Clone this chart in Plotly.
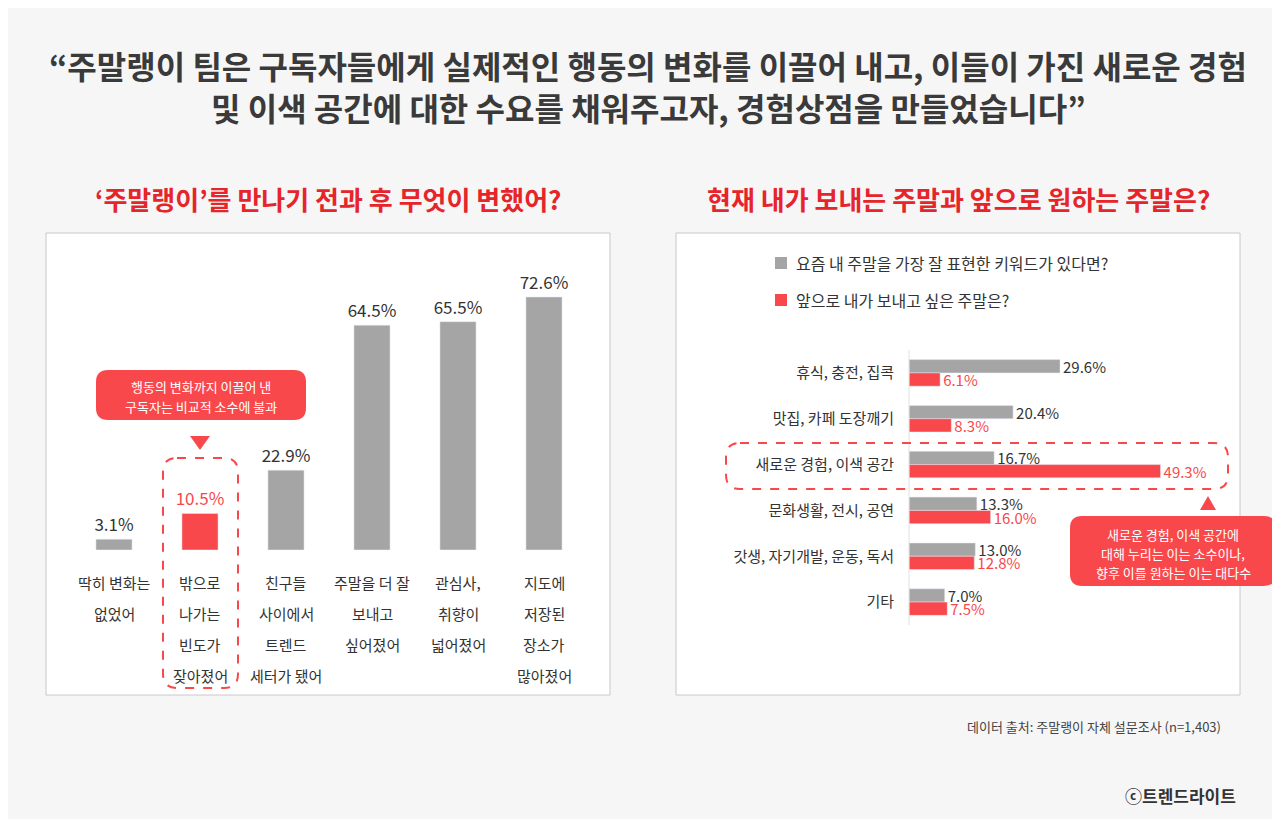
import plotly.graph_objects as go

W, H = 1280, 819
GRAY = "#a5a5a5"
RED = "#f9484c"
DARK = "#333333"
FONT = "Noto Sans CJK KR"

# left chart data
left_labels = [["딱히 변화는", "없었어"], ["밖으로", "나가는", "빈도가", "잦아졌어"],
               ["친구들", "사이에서", "트렌드", "세터가 됐어"], ["주말을 더 잘", "보내고", "싶어졌어"],
               ["관심사,", "취향이", "넓어졌어"], ["지도에", "저장된", "장소가", "많아졌어"]]
left_values = [3.1, 10.5, 22.9, 64.5, 65.5, 72.6]

# right chart data
right_cats = ["휴식, 충전, 집콕", "맛집, 카페 도장깨기", "새로운 경험, 이색 공간",
              "문화생활, 전시, 공연", "갓생, 자기개발, 운동, 독서", "기타"]
now_values = [29.6, 20.4, 16.7, 13.3, 13.0, 7.0]
want_values = [6.1, 8.3, 49.3, 16.0, 12.8, 7.5]


def px(x):
    return x / W


def py(y):
    return 1 - y / H


def rrect(x0, y0, x1, y1, r):
    x0, x1, y0, y1 = px(x0), px(x1), py(y0), py(y1)
    rx, ry = r / W, r / H
    return (f"M{x0+rx},{y0} L{x1-rx},{y0} Q{x1},{y0} {x1},{y0-ry} L{x1},{y1+ry} "
            f"Q{x1},{y1} {x1-rx},{y1} L{x0+rx},{y1} Q{x0},{y1} {x0},{y1+ry} "
            f"L{x0},{y0-ry} Q{x0},{y0} {x0+rx},{y0} Z")


fig = go.Figure()

xs = list(range(len(left_values)))
fig.add_trace(go.Bar(
    x=xs, y=left_values, width=0.42,
    marker_color=[GRAY, RED, GRAY, GRAY, GRAY, GRAY],
    text=[f"{v}%" for v in left_values], textposition="outside", constraintext="none",
    textfont=dict(size=17, color=[DARK, RED, DARK, DARK, DARK, DARK], family=FONT),
    cliponaxis=False, xaxis="x", yaxis="y", showlegend=False))

fig.add_trace(go.Bar(
    y=right_cats, x=now_values, orientation="h", marker_color=GRAY,
    text=[f"{v}%" for v in now_values], textposition="outside", constraintext="none",
    textfont=dict(size=15, color=DARK, family=FONT), cliponaxis=False,
    xaxis="x2", yaxis="y2", showlegend=False))
fig.add_trace(go.Bar(
    y=right_cats, x=want_values, orientation="h", marker_color=RED,
    text=[f"{v}%" for v in want_values], textposition="outside", constraintext="none",
    textfont=dict(size=15, color=RED, family=FONT), cliponaxis=False,
    xaxis="x2", yaxis="y2", showlegend=False))

shapes = [
    dict(type="rect", xref="paper", yref="paper", x0=px(38), x1=px(602), y0=py(687), y1=py(225),
         fillcolor="white", line=dict(color="#c8c8c8", width=1), layer="below"),
    dict(type="rect", xref="paper", yref="paper", x0=px(668), x1=px(1232), y0=py(687), y1=py(225),
         fillcolor="white", line=dict(color="#c8c8c8", width=1), layer="below"),
    dict(type="line", xref="paper", yref="paper", x0=px(901), x1=px(901), y0=py(342), y1=py(617),
         line=dict(color="#e0e0e0", width=1)),
    # dashed highlights
    dict(type="path", xref="paper", yref="paper", path=rrect(155, 450, 230, 680, 14),
         line=dict(color=RED, width=2, dash="dash")),
    dict(type="path", xref="paper", yref="paper", path=rrect(718, 435, 1220, 481, 14),
         line=dict(color=RED, width=2, dash="dash")),
    # callouts
    dict(type="path", xref="paper", yref="paper", path=rrect(88, 362, 298, 412, 12),
         fillcolor=RED, line=dict(width=0)),
    dict(type="path", xref="paper", yref="paper",
         path=f"M{px(182)},{py(428)} L{px(202)},{py(428)} L{px(192)},{py(442)} Z",
         fillcolor=RED, line=dict(width=0)),
    dict(type="path", xref="paper", yref="paper", path=rrect(1062, 508, 1268, 578, 12),
         fillcolor=RED, line=dict(width=0)),
    dict(type="path", xref="paper", yref="paper",
         path=f"M{px(1192)},{py(502)} L{px(1208)},{py(502)} L{px(1200)},{py(488)} Z",
         fillcolor=RED, line=dict(width=0)),
    # legend squares
    dict(type="rect", xref="paper", yref="paper", x0=px(767), x1=px(779), y0=py(261), y1=py(249),
         fillcolor=GRAY, line=dict(width=0)),
    dict(type="rect", xref="paper", yref="paper", x0=px(767), x1=px(779), y0=py(298), y1=py(286),
         fillcolor=RED, line=dict(width=0)),
]

ann = []


def text(x, y, s, size=14, color=DARK, anchor="center", bold=False):
    if bold:
        s = f"<b>{s}</b>"
    ann.append(dict(x=px(x), y=py(y), xref="paper", yref="paper", text=s, showarrow=False,
                    xanchor=anchor, yanchor="middle", font=dict(size=size, color=color, family=FONT)))


text(640, 57, "“주말랭이 팀은 구독자들에게 실제적인 행동의 변화를 이끌어 내고, 이들이 가진 새로운 경험", 32, "#3a3a3a", bold=True)
text(640, 99, "및 이색 공간에 대한 수요를 채워주고자, 경험상점을 만들었습니다”", 32, "#3a3a3a", bold=True)
text(320, 190, "‘주말랭이’를 만나기 전과 후 무엇이 변했어?", 26, "#e5252a", bold=True)
text(950, 190, "현재 내가 보내는 주말과 앞으로 원하는 주말은?", 26, "#e5252a", bold=True)

for i, lines in enumerate(left_labels):
    for j, line in enumerate(lines):
        text(106 + 86 * i, 574 + 31 * j, line, 15)

text(193, 378, "행동의 변화까지 이끌어 낸", 13, "white")
text(193, 398, "구독자는 비교적 소수에 불과", 13, "white")
text(1165, 526, "새로운 경험, 이색 공간에", 13, "white")
text(1165, 545, "대해 누리는 이는 소수이나,", 13, "white")
text(1165, 564, "향후 이를 원하는 이는 대다수", 13, "white")

text(786, 255, "요즘 내 주말을 가장 잘 표현한 키워드가 있다면?", 16, DARK, "left")
text(786, 292, "앞으로 내가 보내고 싶은 주말은?", 16, DARK, "left")

text(1215, 718, "데이터 출처: 주말랭이 자체 설문조사 (n=1,403)", 13, "#444444", "right")
text(1230, 787, "ⓒ트렌드라이트", 17, "#333333", "right", bold=True)

fig.update_layout(
    width=W, height=H, margin=dict(l=0, r=0, t=0, b=0),
    paper_bgcolor="#f6f6f6", plot_bgcolor="rgba(0,0,0,0)",
    font=dict(family=FONT), barmode="group", bargap=0.42, bargroupgap=0.0,
    xaxis=dict(domain=[px(63), px(579)], range=[-0.5, 5.5], visible=False, fixedrange=True),
    yaxis=dict(domain=[py(542), py(260)], range=[0, 80.9], visible=False),
    xaxis2=dict(domain=[px(901), px(1200)], range=[0, 58.6], visible=False, anchor="y2"),
    yaxis2=dict(domain=[py(617), py(342)], anchor="x2", autorange="reversed",
                showticklabels=True, ticks="", showgrid=False, showline=False, zeroline=False,
                tickfont=dict(size=15, color=DARK, family=FONT), ticklabelstandoff=14),
    shapes=shapes, annotations=ann,
)

fig.write_html("out.html")
